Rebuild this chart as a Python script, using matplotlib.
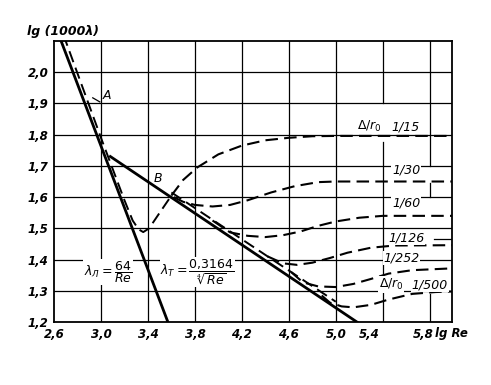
import numpy as np
import matplotlib
matplotlib.use("Agg")
import matplotlib.pyplot as plt
import matplotlib.transforms as mtransforms

plt.rcParams['font.family'] = ['DejaVu Sans']
plt.rcParams['mathtext.fontset'] = 'dejavusans'

# axis ticks (lg Re, lg(1000 lambda))
x_ticks = [2.6, 3.0, 3.4, 3.8, 4.2, 4.6, 5.0, 5.4, 5.8]
x_tick_labels = ["2,6", "3,0", "3,4", "3,8", "4,2", "4,6", "5,0", "5,4", "5,8"]
y_ticks = [1.2, 1.3, 1.4, 1.5, 1.6, 1.7, 1.8, 1.9, 2.0]
y_tick_labels = ["1,2", "1,3", "1,4", "1,5", "1,6", "1,7", "1,8", "1,9", "2,0"]

# theory lines
lam_x = [2.62, 3.57]
lam_y = [2.14, 1.20]
turb_x = [3.08, 5.18]
turb_y = [1.73, 1.20]

# measured: laminar branch + transition up to B
lamexp_x = [2.68, 3.0, 3.2, 3.27, 3.32, 3.36, 3.41, 3.5, 3.6]
lamexp_y = [2.12, 1.79, 1.59, 1.525, 1.497, 1.488, 1.50, 1.55, 1.605]
# measured: smooth pipe along Blasius
smooth_x = [3.6, 5.0]
smooth_y = [1.615, 1.265]

# rough pipes, Delta/r0
r15_x = [3.6, 3.7, 3.82, 4.0, 4.2, 4.4, 4.6, 4.8, 5.0, 6.0]
r15_y = [1.605, 1.655, 1.695, 1.737, 1.765, 1.782, 1.79, 1.795, 1.796, 1.796]
r30_x = [3.62, 3.7, 3.8, 3.95, 4.1, 4.25, 4.45, 4.65, 4.85, 5.0, 6.0]
r30_y = [1.60, 1.585, 1.575, 1.57, 1.575, 1.59, 1.615, 1.635, 1.648, 1.65, 1.65]
r60_x = [3.95, 4.1, 4.25, 4.4, 4.55, 4.7, 4.85, 5.0, 5.2, 5.4, 6.0]
r60_y = [1.525, 1.487, 1.476, 1.472, 1.478, 1.49, 1.508, 1.522, 1.534, 1.54, 1.54]
r126_x = [4.42, 4.55, 4.67, 4.8, 4.95, 5.1, 5.3, 5.5, 6.0]
r126_y = [1.41, 1.388, 1.383, 1.39, 1.405, 1.422, 1.438, 1.445, 1.446]
r252_x = [4.62, 4.72, 4.85, 5.0, 5.15, 5.3, 5.45, 5.65, 6.0]
r252_y = [1.36, 1.327, 1.314, 1.312, 1.322, 1.338, 1.355, 1.366, 1.372]
r500_x = [4.88, 4.95, 5.05, 5.15, 5.3, 5.45, 5.65, 5.85, 6.0]
r500_y = [1.285, 1.262, 1.25, 1.247, 1.255, 1.272, 1.29, 1.296, 1.298]

fig = plt.figure(figsize=(4.91, 3.85), dpi=100)
ax = fig.add_axes([0.110, 0.1636, 0.8106, 0.7299])
ax.set_xlim(2.6, 5.99)
ax.set_ylim(1.2, 2.1)

# grid, drawn by hand because some lines are broken in the original
for yv in y_ticks[1:]:
    ax.axhline(yv, color='black', lw=0.9, zorder=1)
for xv in x_ticks[1:7]:
    ax.axvline(xv, color='black', lw=0.9, zorder=1)
ax.plot([5.4, 5.4], [1.9, 2.1], color='black', lw=0.9, zorder=1)
ax.plot([5.4, 5.4], [1.2, 1.775], color='black', lw=0.9, zorder=1)
ax.plot([5.8, 5.8], [1.70, 2.1], color='black', lw=0.9, zorder=1)
ax.plot([5.8, 5.8], [1.6, 1.645], color='black', lw=0.9, zorder=1)
ax.plot([5.8, 5.8], [1.2, 1.29], color='black', lw=0.9, zorder=1)

for s in ax.spines.values():
    s.set_linewidth(1.3)

dash = (0, (6, 3))
ax.plot(lam_x, lam_y, color='black', lw=2.0, zorder=3)
ax.plot(turb_x, turb_y, color='black', lw=2.0, zorder=3)
ax.plot(lamexp_x, lamexp_y, color='black', lw=1.4, ls=dash, zorder=3)
ax.plot(smooth_x, smooth_y, color='black', lw=1.4, ls=dash, zorder=3)
for cx, cy in [(r15_x, r15_y), (r30_x, r30_y), (r60_x, r60_y),
               (r126_x, r126_y), (r252_x, r252_y), (r500_x, r500_y)]:
    ax.plot(cx, cy, color='black', lw=1.5, ls=dash, zorder=3)

ax.set_xticks(x_ticks)
ax.set_xticklabels(x_tick_labels)
ax.set_yticks(y_ticks)
ax.set_yticklabels(y_tick_labels)
ax.tick_params(length=0, labelsize=8.5, pad=4)
for lab in ax.get_xticklabels() + ax.get_yticklabels():
    lab.set_fontstyle('italic')
    lab.set_fontweight('bold')
# the last two x labels sit a bit left in the original
xl = ax.get_xticklabels()
xl[7].set_transform(xl[7].get_transform() +
                    mtransforms.ScaledTranslation(-14 / 100, 0, fig.dpi_scale_trans))
xl[8].set_transform(xl[8].get_transform() +
                    mtransforms.ScaledTranslation(-6 / 100, 0, fig.dpi_scale_trans))

wb = dict(fc='white', ec='none', pad=0.5)
tkw = dict(fontsize=9, fontstyle='italic', ha='center', va='center', zorder=4)

ax.plot([2.93, 2.99], [1.918, 1.905], color='black', lw=0.9, zorder=3)
ax.text(3.05, 1.925, "A", **tkw)
ax.text(3.485, 1.66, "B", **tkw)

ax.text(3.06, 1.36, r'$\lambda_{Л}=\dfrac{64}{Re}$', fontsize=9, ha='center',
        va='center', bbox=dict(fc='white', ec='none', pad=0.2), zorder=4)
ax.text(3.82, 1.36, r'$\lambda_{Т}=\dfrac{0{,}3164}{\sqrt[4]{Re}}$', fontsize=9,
        ha='center', va='center', bbox=dict(fc='white', ec='none', pad=0.2), zorder=4)

ax.text(5.29, 1.825, r'$\Delta/r_0$', fontsize=9, ha='center', va='center', zorder=4)
ax.text(5.59, 1.825, "1/15", bbox=wb, **tkw)
ax.text(5.60, 1.686, "1/30", bbox=wb, **tkw)
ax.text(5.60, 1.58, "1/60", bbox=wb, **tkw)
ax.text(5.60, 1.47, "1/126", bbox=wb, **tkw)
ax.text(5.56, 1.405, "1/252", bbox=wb, **tkw)
ax.text(5.47, 1.32, r'$\Delta/r_0$', fontsize=9, ha='center', va='center',
        bbox=wb, zorder=4)
ax.text(5.80, 1.32, "1/500", bbox=wb, **tkw)
ax.plot([5.84, 5.98], [1.465, 1.465], color='black', lw=0.9, zorder=3)

fig.text(435 / 491, 1 - 333 / 385, "lg Re", fontsize=8.5, fontstyle='italic',
         fontweight='bold', ha='left', va='center')
fig.text(63 / 491, 1 - 31 / 385, "lg (1000λ)", fontsize=9, fontstyle='italic',
         fontweight='bold', ha='center', va='center')

fig.savefig("out.png", dpi=100)
